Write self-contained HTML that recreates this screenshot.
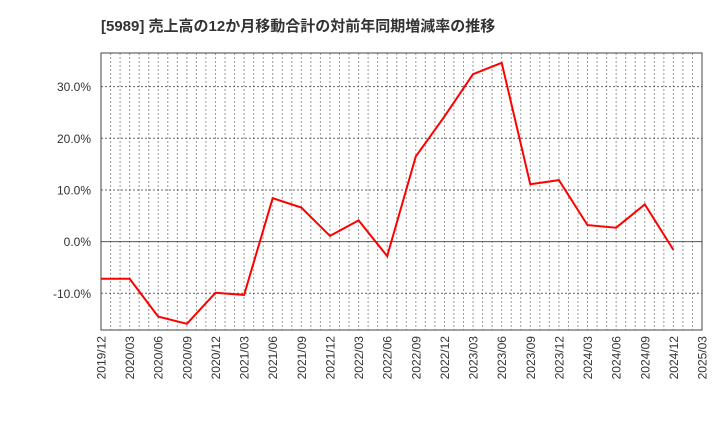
<!DOCTYPE html>
<html><head><meta charset="utf-8">
<style>
html,body{margin:0;padding:0;background:#fff;}
svg{display:block;font-family:"Liberation Sans","Noto Sans CJK JP",sans-serif;}
</style></head>
<body>
<svg id="chart" width="720" height="440" viewBox="0 0 720 440" xmlns="http://www.w3.org/2000/svg">
<text x="101" y="31" font-size="15" font-weight="bold" fill="#333">[5989]  売上高の12か月移動合計の対前年同期増減率の推移</text>
<g id="grid"></g>
<g id="yticks"></g>
<g id="xticks"></g>
<g id="series"></g>
<rect x="101" y="53" width="601" height="277" fill="none" stroke="#444" stroke-width="1"/>
</svg>
<script>
const categories = ["2019/12","2020/03","2020/06","2020/09","2020/12","2021/03","2021/06","2021/09","2021/12","2022/03","2022/06","2022/09","2022/12","2023/03","2023/06","2023/09","2023/12","2024/03","2024/06","2024/09","2024/12"];
const values = [-7.2,-7.2,-14.5,-15.9,-9.9,-10.3,8.4,6.6,1.1,4.1,-2.8,16.5,24.2,32.4,34.6,11.1,11.9,3.2,2.7,7.2,-1.6];
const xTickLabels = ["2019/12","2020/03","2020/06","2020/09","2020/12","2021/03","2021/06","2021/09","2021/12","2022/03","2022/06","2022/09","2022/12","2023/03","2023/06","2023/09","2023/12","2024/03","2024/06","2024/09","2024/12","2025/03"];
const yTickValues = [-10,0,10,20,30];

const NS="http://www.w3.org/2000/svg";
const L=101,R=702,T=53,B=330;
const totalMonths=63;
const yMin=-17.1,yMax=36.5;
function monthIdx(s){const [y,m]=s.split("/").map(Number);return (y-2019)*12+(m-12);}
function xPos(i){return L+(R-L)*i/totalMonths;}
function yPos(v){return B-(v-yMin)/(yMax-yMin)*(B-T);}
function mk(tag,attrs,parent){const e=document.createElementNS(NS,tag);for(const k in attrs)e.setAttribute(k,attrs[k]);parent.appendChild(e);return e;}

const grid=document.getElementById("grid");
for(let m=1;m<totalMonths;m++){
  const x=xPos(m);
  const ln=mk("line",{x1:x,x2:x,y1:T,y2:B,stroke:"#999","stroke-dasharray":"2,2","stroke-width":1},grid);
  
  
}
const yt=document.getElementById("yticks");
yTickValues.forEach(v=>{
  const y=yPos(v);
  const ln=mk("line",{x1:L,x2:R,y1:y,y2:y,stroke:v===0?"#555":"#666","stroke-dasharray":v===0?"none":"2,2","stroke-width":1},grid);
  
  
  const t=mk("text",{x:L-10,y:y+4.5,"text-anchor":"end","font-size":12,fill:"#333"},yt);
  t.textContent=v.toFixed(1)+"%";
  
  
});
const xt=document.getElementById("xticks");
xTickLabels.forEach(s=>{
  const x=xPos(monthIdx(s));
  const t=mk("text",{transform:`translate(${x+4.5},${B+6}) rotate(-90)`,"text-anchor":"end","font-size":12,fill:"#333"},xt);
  t.textContent=s;
  
  
});
const pts=categories.map((c,i)=>xPos(monthIdx(c)).toFixed(1)+","+yPos(values[i]).toFixed(1)).join(" ");
const pl=mk("polyline",{points:pts,fill:"none",stroke:"#f00","stroke-width":2,"stroke-linejoin":"miter"},document.getElementById("series"));


</script>
</body></html>
